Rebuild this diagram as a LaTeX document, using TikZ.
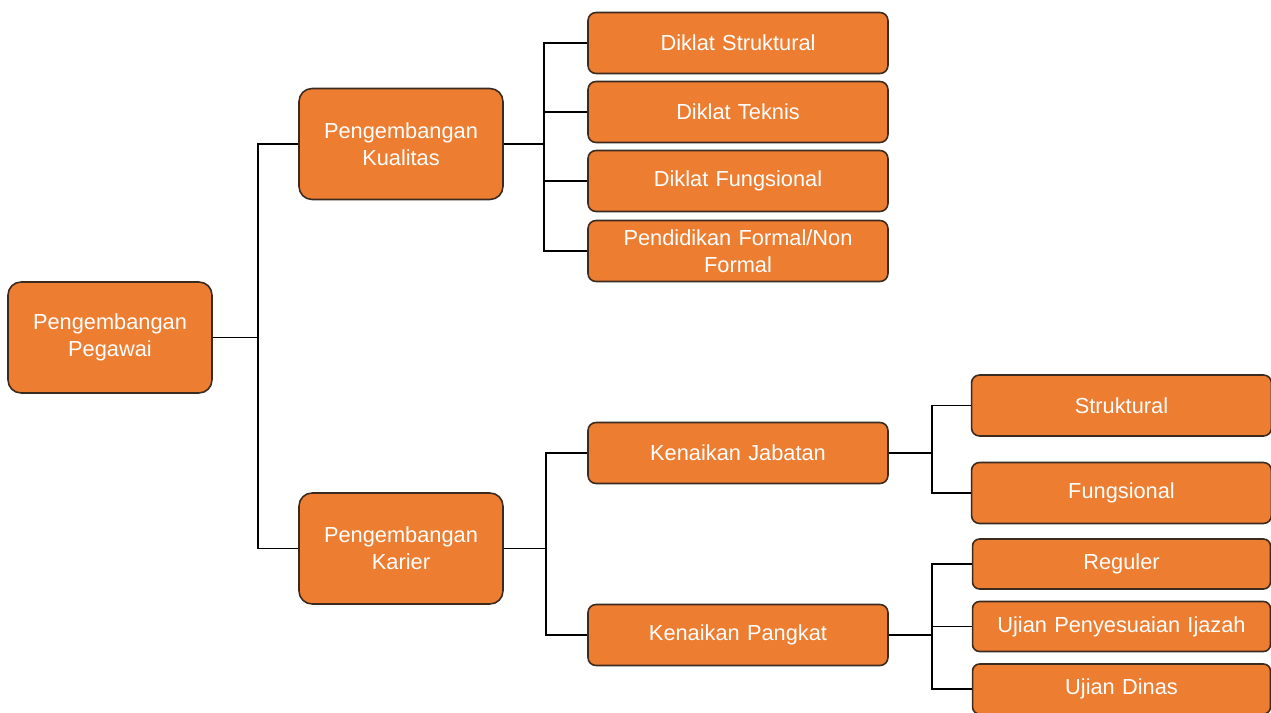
\documentclass[tikz,border=0pt]{standalone}
\usepackage{fontspec}
\setmainfont{Liberation Sans}
\definecolor{boxorange}{HTML}{ED7D31}
\definecolor{boxline}{HTML}{3B2A1E}

\tikzset{
  box/.style={draw=boxline, fill=boxorange, text=white, line width=0.9pt,
    align=center, font=\fontsize{12.4}{15.5}\selectfont, inner sep=2pt},
  bigbox/.style={box, rounded corners=0.26cm, minimum width=4.08cm, minimum height=2.22cm, text width=3.8cm},
  midbox/.style={box, rounded corners=0.16cm, minimum width=6cm, minimum height=1.22cm, text width=5.7cm},
  lowbox/.style={box, rounded corners=0.14cm, minimum width=5.96cm, minimum height=1.0cm, text width=5.7cm},
  link/.style={draw=black, line width=0.9pt}
}

\begin{document}
\begin{tikzpicture}[x=0.02cm, y=-0.02cm]

  \useasboundingbox (0,0) rectangle (1271,713);

  % Root and second level
  \node[bigbox] (root) at (110,337.5) {Pengembangan\\Pegawai};
  \node[bigbox] (pk) at (401,144) {Pengembangan\\Kualitas};
  \node[bigbox] (pkar) at (401,548.5) {Pengembangan\\Karier};

  % Branch of Pengembangan Kualitas
  \node[midbox] (ds) at (738,43) {Diklat Struktural};
  \node[midbox] (dt) at (738,112) {Diklat Teknis};
  \node[midbox] (df) at (738,181) {Diklat Fungsional};
  \node[midbox] (pf) at (738,251) {Pendidikan Formal/Non\\Formal};

  % Branch of Pengembangan Karier
  \node[midbox] (kj) at (738,453) {Kenaikan Jabatan};
  \node[midbox] (kp) at (738,635) {Kenaikan Pangkat};

  % Leaves on the right
  \node[midbox] (str) at (1121.5,405.5) {Struktural};
  \node[midbox] (fung) at (1121.5,493) {Fungsional};
  \node[lowbox] (reg) at (1121.5,564) {Reguler};
  \node[lowbox] (upi) at (1121.5,626.5) {Ujian Penyesuaian Ijazah};
  \node[lowbox] (ud) at (1121.5,689) {Ujian Dinas};

  % Connectors
  \foreach \n in {pk,pkar}
    \draw[link] (root.east) -- ++(45,0) |- (\n.west);
  \foreach \n in {ds,dt,df,pf}
    \draw[link] (pk.east) -- ++(40,0) |- (\n.west);
  \foreach \n in {kj,kp}
    \draw[link] (pkar.east) -- ++(42,0) |- (\n.west);
  \foreach \n in {str,fung}
    \draw[link] (kj.east) -- ++(43,0) |- (\n.west);
  \foreach \n in {reg,upi,ud}
    \draw[link] (kp.east) -- ++(43,0) |- (\n.west);

\end{tikzpicture}
\end{document}
